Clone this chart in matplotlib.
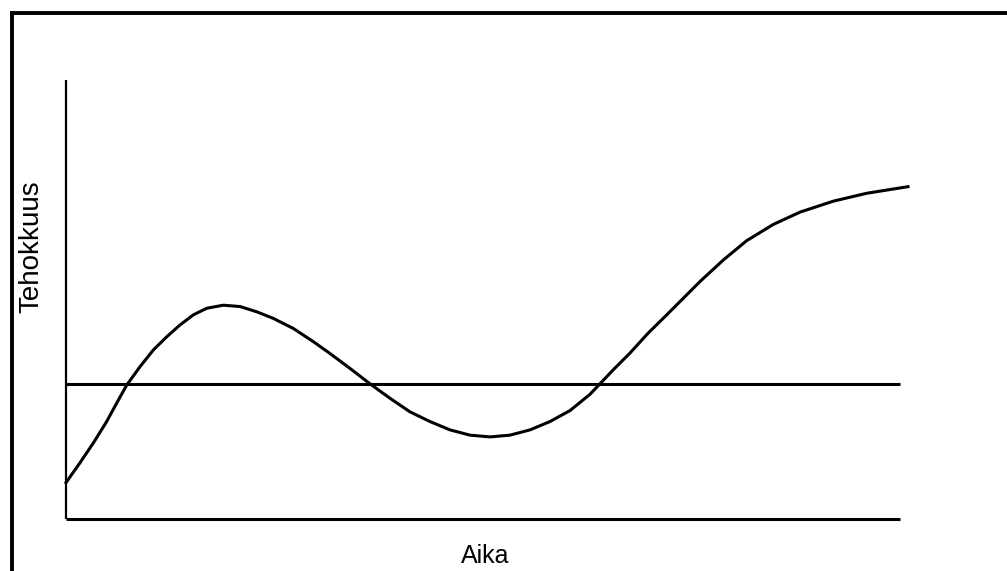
import matplotlib.pyplot as plt
from matplotlib.lines import Line2D

plt.rcParams['font.family'] = ['Liberation Sans', 'DejaVu Sans']

# Käyrän pisteet (aika, tehokkuus), luettu kuvasta
aika = [0.0, 0.166, 0.324, 0.483, 0.602, 0.721, 0.879, 1.037, 1.196, 1.354, 1.512,
        1.671, 1.868, 2.067, 2.265, 2.462, 2.700, 2.937, 3.135, 3.373, 3.610, 3.848,
        4.086, 4.323, 4.561, 4.798, 5.036, 5.273, 5.511, 5.748, 5.986, 6.223, 6.342,
        6.500, 6.698, 6.912, 7.134, 7.530, 7.807, 8.084, 8.400, 8.717, 9.113, 9.510, 10.0]
tehokkuus = [0.83, 1.28, 1.73, 2.22, 2.64, 3.05, 3.47, 3.85, 4.15, 4.42, 4.65,
             4.80, 4.87, 4.84, 4.72, 4.57, 4.34, 4.04, 3.77, 3.43, 3.08, 2.75,
             2.44, 2.22, 2.03, 1.91, 1.87, 1.91, 2.03, 2.22, 2.47, 2.84, 3.08,
             3.40, 3.78, 4.23, 4.65, 5.41, 5.90, 6.34, 6.71, 6.99, 7.24, 7.42, 7.57]
taso = 3.08        # vaakaviiva
x_loppu = 9.9      # akselien pituus

W, H = 1007, 571
fig = plt.figure(figsize=(W / 100, H / 100), dpi=100)

# kehys (oikea ja ala reuna jäävät kuvan ulkopuolelle)
fig.add_artist(Line2D([12 / W, 12 / W], [0, 1 - 13 / H], transform=fig.transFigure,
                      color='black', lw=2.8, solid_capstyle='projecting'))
fig.add_artist(Line2D([12 / W, 1], [1 - 13 / H, 1 - 13 / H], transform=fig.transFigure,
                      color='black', lw=2.8, solid_capstyle='projecting'))

ax = fig.add_axes([66 / W, 52 / H, 842 / W, 439 / H])
ax.set_xlim(0, 10)
ax.set_ylim(0, 10)
for s in ax.spines.values():
    s.set_visible(False)
ax.set_xticks([])
ax.set_yticks([])

ax.plot([0, 0], [0, 10], color='black', lw=1.6, solid_capstyle='butt', clip_on=False)
ax.plot([0, x_loppu], [0, 0], color='black', lw=2.2, solid_capstyle='butt', clip_on=False)
ax.plot([0, x_loppu], [taso, taso], color='black', lw=2.2, solid_capstyle='butt', clip_on=False)
ax.plot(aika, tehokkuus, color='black', lw=2.2, solid_joinstyle='round', clip_on=False)

fig.text(31 / W, 1 - 247 / H, "Tehokkuus", rotation=90, ha='center', va='center', fontsize=20)
fig.text(485 / W, 1 - 556 / H, "Aika", ha='center', va='center', fontsize=18)

fig.savefig('out.png', dpi=100)
